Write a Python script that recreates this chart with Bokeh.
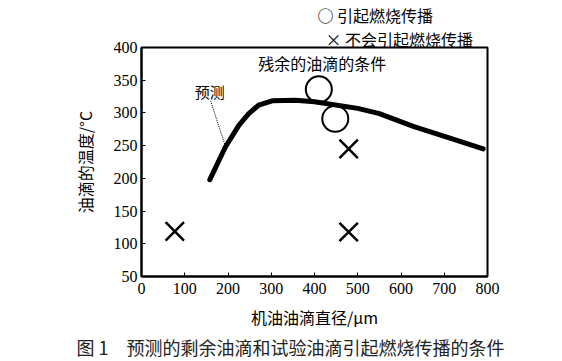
from bokeh.plotting import figure
from bokeh.models import Range1d, FixedTicker, Label, Title
from bokeh.embed import file_html
from bokeh.resources import INLINE

# predicted curve (residual droplet condition)
curve_x = [158, 194, 225, 248, 271, 302, 356, 400, 500, 550, 630, 715, 790]
curve_y = [198, 248, 281, 299, 312, 318.5, 319.5, 317, 307, 299, 279, 261, 245]

# test droplets causing flame propagation
ignite_x = [410, 448]
ignite_y = [336, 291]

# test droplets not causing flame propagation
noignite_x = [77, 479, 479]
noignite_y = [119, 245, 118]

x_ticks = [0, 100, 200, 300, 400, 500, 600, 700, 800]
y_ticks = [50, 100, 150, 200, 250, 300, 350, 400]

# leader line from "预测" label to curve
lead_x = [160, 193]
lead_y = [318, 251]

CJK = "Noto Sans CJK SC"
SERIF = "Liberation Serif"

p = figure(width=562, height=361, output_backend="svg", toolbar_location=None,
           x_range=Range1d(0, 800), y_range=Range1d(50, 400),
           min_border_left=141, min_border_right=75, min_border_top=47,
           min_border_bottom=85)
p.grid.visible = False
p.outline_line_color = "black"
p.outline_line_width = 2
p.background_fill_color = "white"
p.border_fill_color = "white"

p.xaxis.ticker = FixedTicker(ticks=x_ticks)
p.yaxis.ticker = FixedTicker(ticks=y_ticks)
for ax in (p.xaxis, p.yaxis):
    ax.axis_line_width = 2
    ax.axis_line_color = "black"
    ax.major_tick_in = 4
    ax.major_tick_out = 0
    ax.major_tick_line_color = "black"
    ax.minor_tick_in = 0
    ax.minor_tick_out = 0
    ax.major_label_text_font = SERIF
    ax.major_label_text_font_size = "16px"
    ax.major_label_text_color = "black"
    ax.axis_label_text_font = CJK
    ax.axis_label_text_font_size = "16px"
    ax.axis_label_text_font_style = "normal"
    ax.axis_label_text_color = "black"

p.xaxis.axis_label = "机油油滴直径/μm"
p.yaxis.axis_label = "油滴的温度/°C"
p.xaxis.major_label_standoff = 6
p.yaxis.major_label_standoff = 4
p.xaxis.axis_label_standoff = 8
p.yaxis.axis_label_standoff = 14

p.line(curve_x, curve_y, line_width=5, line_color="black",
       line_cap="round", line_join="round")
p.line(lead_x, lead_y, line_width=1, line_color="black", line_dash="1 1")
p.scatter(ignite_x, ignite_y, marker="circle", size=26, fill_color=None,
          line_color="black", line_width=2)
p.scatter(noignite_x, noignite_y, marker="x", size=26,
          line_color="black", line_width=2.5)

p.add_layout(Label(x=418, y=377, text="残余的油滴的条件", text_font=CJK,
                   text_font_size="16px", text_align="center",
                   text_baseline="middle", text_color="black"))
p.add_layout(Label(x=158, y=332, text="预测", text_font=CJK,
                   text_font_size="15px", text_align="center",
                   text_baseline="middle", text_color="black"))

# legend above the frame (later-added titles stack farther from the frame)
p.add_layout(Title(text="× 不会引起燃烧传播", text_font=CJK, text_font_size="16px",
                   text_font_style="normal", text_color="black",
                   align="left", vertical_align="middle", offset=184,
                   standoff=-8), "above")
p.add_layout(Title(text="○ 引起燃烧传播", text_font=CJK, text_font_size="16px",
                   text_font_style="normal", text_color="black",
                   align="left", vertical_align="middle", offset=176,
                   standoff=3), "above")

# caption
p.add_layout(Title(text="图 1　预测的剩余油滴和试验油滴引起燃烧传播的条件",
                   text_font=CJK, text_font_size="18px", text_font_style="normal",
                   text_color="#222222", align="left", offset=-65, standoff=0),
             "below")

open("out.html", "w").write(file_html(p, INLINE))
